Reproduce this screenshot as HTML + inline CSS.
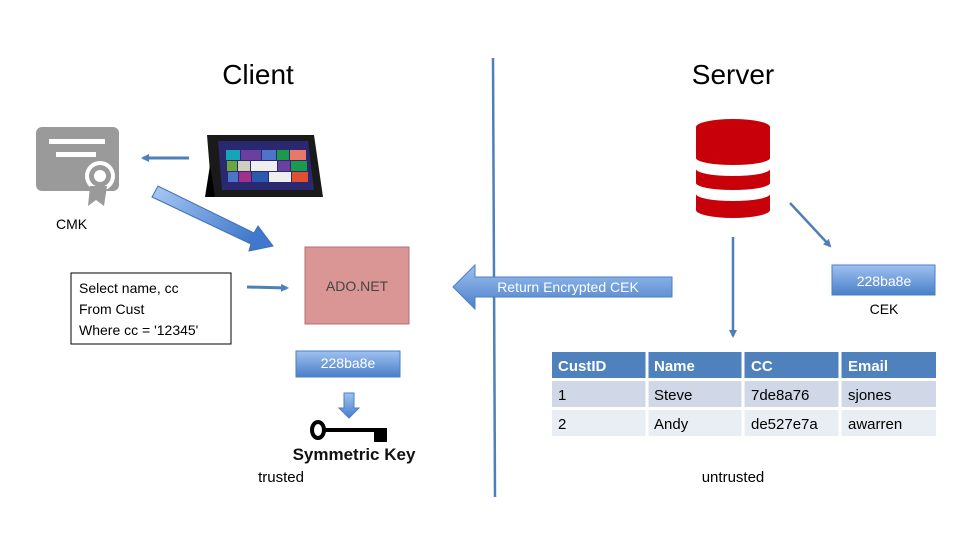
<!DOCTYPE html>
<html><head><meta charset="utf-8"><style>
body{margin:0;width:960px;height:540px;background:#fff;overflow:hidden}
svg{display:block}
text{font-family:"Liberation Sans",sans-serif}
</style></head><body>
<svg width="960" height="540" viewBox="0 0 960 540">
<defs>
<linearGradient id="bg" x1="0" y1="0" x2="0" y2="1"><stop offset="0" stop-color="#9ec1ef"/><stop offset="1" stop-color="#4a7fc8"/></linearGradient>
<linearGradient id="dg" x1="0" y1="0" x2="1" y2="0.4"><stop offset="0" stop-color="#a9c9f2"/><stop offset="1" stop-color="#3f78cc"/></linearGradient>
<marker id="ah" markerWidth="8" markerHeight="8" refX="6" refY="4" orient="auto" markerUnits="userSpaceOnUse"><path d="M0,0 L8,4 L0,8z" fill="#4f7fb8"/></marker>
</defs>
<text x="258" y="84" font-size="28" text-anchor="middle">Client</text>
<text x="733" y="84" font-size="28" text-anchor="middle">Server</text>
<line x1="493" y1="58" x2="495" y2="497" stroke="#4f7fb8" stroke-width="2.5"/>
<!-- certificate -->
<rect x="36" y="127" width="83" height="64" rx="6" fill="#9a9a9a"/>
<rect x="49" y="139" width="56" height="5" fill="#fff"/>
<rect x="56" y="152" width="40" height="5" fill="#fff"/>
<circle cx="100" cy="176" r="15" fill="#fff"/>
<circle cx="100" cy="176" r="11" fill="#9a9a9a"/>
<circle cx="100" cy="176" r="6" fill="#fff"/>
<path d="M90,186 L88,206 L96,200 L104,206 L107,186z" fill="#9a9a9a"/>
<text x="56" y="229" font-size="14">CMK</text>
<line x1="189" y1="158" x2="143" y2="158" stroke="#4f7fb8" stroke-width="3" marker-end="url(#ah)"/>
<!-- tablet -->
<path d="M207,135 L314,135 L323,197 L212,197z" fill="#1a1a1a"/>
<path d="M210,165 L205,197 L215,197z" fill="#000"/>
<path d="M218,141 L308,141 L314,190 L222,190z" fill="#2a2870"/>
<rect x="226" y="150" width="14" height="10" fill="#16a5b8"/><rect x="241" y="150" width="20" height="10" fill="#6a3fa0"/><rect x="262" y="150" width="14" height="10" fill="#4d74c9"/><rect x="277" y="150" width="12" height="10" fill="#1a9a4a"/><rect x="290" y="150" width="16" height="10" fill="#e8786a"/>
<rect x="227" y="161" width="10" height="10" fill="#6aa83a"/><rect x="238" y="161" width="12" height="10" fill="#cfcfbf"/><rect x="251" y="161" width="26" height="10" fill="#eee"/><rect x="278" y="161" width="12" height="10" fill="#6a3fa0"/><rect x="291" y="161" width="16" height="10" fill="#1a9a4a"/>
<rect x="228" y="172" width="10" height="10" fill="#4d74c9"/><rect x="239" y="172" width="12" height="10" fill="#a0308a"/><rect x="252" y="172" width="16" height="10" fill="#2a5ab0"/><rect x="269" y="172" width="22" height="10" fill="#eee"/><rect x="292" y="172" width="16" height="10" fill="#e05030"/>
<!-- big diagonal arrow -->
<polygon points="152,197 158,186 254,233 258,226 273,246 249,251 251,244 152,197" fill="url(#dg)" stroke="#3f70b5" stroke-width="1"/>
<!-- query box -->
<rect x="71" y="273" width="160" height="71" fill="#fff" stroke="#000" stroke-width="1"/>
<text font-size="14" x="79" y="293">Select name, cc</text>
<text font-size="14" x="79" y="314">From Cust</text>
<text font-size="14" x="79" y="335">Where cc = '12345'</text>
<line x1="247" y1="287" x2="287" y2="288" stroke="#4f7fb8" stroke-width="3" marker-end="url(#ah)"/>
<!-- ADO -->
<rect x="305" y="247" width="104" height="77" fill="#d99694" stroke="#b07070"/>
<text x="357" y="291" font-size="14" text-anchor="middle" fill="#444">ADO.NET</text>
<rect x="296" y="351" width="104" height="26" fill="url(#bg)" stroke="#4a7fc8"/>
<text x="348" y="368" font-size="14" text-anchor="middle" fill="#fff">228ba8e</text>
<polygon points="344,393 354,393 354,408 359,408 349,418 339,408 344,408" fill="url(#bg)" stroke="#4a7fc8"/>
<!-- key -->
<ellipse cx="318" cy="430" rx="6" ry="8" fill="none" stroke="#000" stroke-width="4"/>
<rect x="324" y="428" width="63" height="4" fill="#000"/>
<rect x="374" y="432" width="13" height="10" fill="#000"/>
<text x="354" y="460" font-size="17" text-anchor="middle" font-weight="bold" fill="#111">Symmetric Key</text>
<text x="281" y="482" font-size="15" text-anchor="middle">trusted</text>
<!-- return arrow -->
<polygon points="453,287 475,265 475,277 672,277 672,297 475,297 475,309" fill="url(#bg)" stroke="#4a7fc8"/>
<text x="568" y="292" font-size="14" text-anchor="middle" fill="#fff">Return Encrypted CEK</text>
<!-- db -->
<g fill="#c8000a">
<path d="M696,127 A37,8 0 0 1 770,127 L770,158 A37,7 0 0 1 696,158z"/>
<path d="M696,169 A37,7 0 0 0 770,169 L770,183 A37,7 0 0 1 696,183z"/>
<path d="M696,194 A37,7 0 0 0 770,194 L770,210 A37,8 0 0 1 696,210z"/>
</g>
<line x1="790" y1="203" x2="830" y2="246" stroke="#4f7fb8" stroke-width="2.5" marker-end="url(#ah)"/>
<line x1="733" y1="237" x2="733" y2="336" stroke="#4f7fb8" stroke-width="2.5" marker-end="url(#ah)"/>
<rect x="832" y="265" width="103" height="30" fill="url(#bg)" stroke="#4a7fc8"/>
<text x="884" y="286" font-size="14" text-anchor="middle" fill="#fff">228ba8e</text>
<text x="884" y="314" font-size="14" text-anchor="middle">CEK</text>
<!-- table -->
<g font-size="15">
<rect x="552" y="352" width="384" height="26" fill="#4f81bd"/>
<rect x="552" y="381" width="384" height="26" fill="#d0d8e8"/>
<rect x="552" y="410" width="384" height="26" fill="#e9edf4"/>
<g stroke="#fff" stroke-width="3"><line x1="647" y1="352" x2="647" y2="436"/><line x1="743" y1="352" x2="743" y2="436"/><line x1="840" y1="352" x2="840" y2="436"/></g>
<g fill="#fff" font-weight="bold"><text x="558" y="371">CustID</text><text x="654" y="371">Name</text><text x="751" y="371">CC</text><text x="848" y="371">Email</text></g>
<text x="558" y="400">1</text><text x="654" y="400">Steve</text><text x="751" y="400">7de8a76</text><text x="848" y="400">sjones</text>
<text x="558" y="429">2</text><text x="654" y="429">Andy</text><text x="751" y="429">de527e7a</text><text x="848" y="429">awarren</text>
</g>
<text x="733" y="482" font-size="15" text-anchor="middle">untrusted</text>
</svg>
</body></html>
